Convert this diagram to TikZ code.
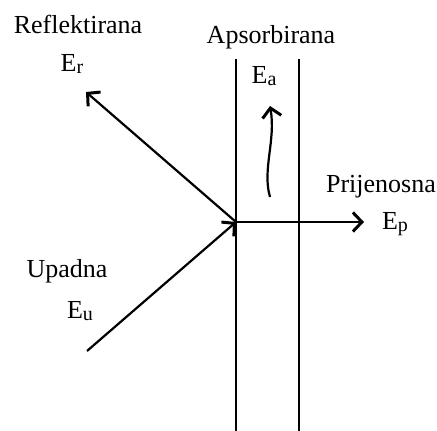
\documentclass[tikz,border=0pt]{standalone}
\usepackage{fontspec}
\setmainfont{Liberation Serif}
\usetikzlibrary{arrows.meta, positioning}
\newcommand{\lowidx}[1]{\raisebox{-0.1em}{\fontsize{20}{22}\selectfont #1}}

\begin{document}
\begin{tikzpicture}[
  x=1pt, y=-1pt,
  lbl/.style={anchor=base, inner sep=0pt, font=\fontsize{26}{30}\selectfont},
  wall/.style={line width=2.6pt},
  ray/.style={line width=2.2pt, -{Straight Barb[length=9pt, width=19pt, line width=3pt]}}
]
\useasboundingbox (0,0) rectangle (437,431);

% plate
\coordinate (wl top) at (236,59);
\coordinate (wl bot) at (236,431);
\coordinate (wr top) at (299,59);
\coordinate (wr bot) at (299,431);
\draw[wall] (wl top) -- (wl bot);
\draw[wall] (wr top) -- (wr bot);

% ray end points
\coordinate (hit) at (236,222);
\coordinate (src) at (87,351);
\coordinate (refl) at (86,92);
\coordinate (trans) at (364,222);
\coordinate (abs start) at (270,197);
\coordinate (abs end) at (270,106);

% labels
\node[lbl] (reflname) at (78,34) {Reflektirana};
\node[lbl] (reflsym) at (72,71) {E\lowidx{r}};
\node[lbl] (absname) at (271,43) {Apsorbirana};
\node[lbl] (abssym) at (264,83) {E\lowidx{a}};
\node[lbl] (transname) at (381,192) {Prijenosna};
\node[lbl] (transsym) at (395,229) {E\lowidx{p}};
\node[lbl] (incname) at (67,277) {Upadna};
\node[lbl] (incsym) at (80,318) {E\lowidx{u}};

% rays
\draw[ray] (src) -- (hit);
\draw[ray] (hit) -- (refl);
\draw[ray] (hit) -- (trans);
\draw[ray] (abs start) .. controls (262,170) and (276,140) .. (abs end);
\end{tikzpicture}
\end{document}
